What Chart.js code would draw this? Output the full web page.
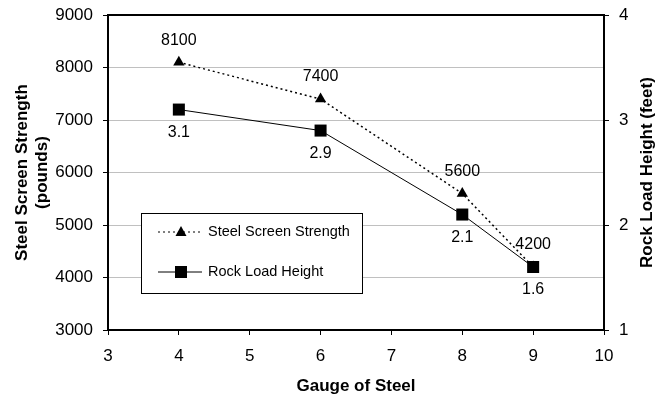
<!DOCTYPE html>
<html>
<head>
<meta charset="utf-8">
<script src="https://cdn.jsdelivr.net/npm/chart.js@4/dist/chart.umd.min.js"></script>
<style>
  html, body { margin: 0; padding: 0; background: #fff; }
  #wrap { width: 670px; height: 401px; position: relative; }
</style>
</head>
<body>
<div id="wrap"><canvas id="gaugeChart"></canvas></div>
<script>
// datos
const gauges = [4, 6, 8, 9];
const screenStrength = [8100, 7400, 5600, 4200];
const rockLoadHeight = [3.1, 2.9, 2.1, 1.6];
const strengthTicks = [3000, 4000, 5000, 6000, 7000, 8000, 9000];
const heightTicks = [1, 2, 3, 4];
const seriesNames = ['Steel Screen Strength', 'Rock Load Height'];

const fontFamily = '"Liberation Sans", Arial, sans-serif';

// etiquetas de valor, borde superior, leyenda y título derecho
const extrasPlugin = {
    id: 'extras',
    afterDatasetsDraw(chart) {
        const ctx = chart.ctx;
        const area = chart.chartArea;
        ctx.save();
        ctx.fillStyle = '#000';
        ctx.font = '16px ' + fontFamily;
        ctx.textAlign = 'center';
        ctx.textBaseline = 'middle';
        chart.getDatasetMeta(0).data.forEach(function (pt, i) {
            ctx.fillText(String(screenStrength[i]), pt.x, pt.y - 22);
        });
        chart.getDatasetMeta(1).data.forEach(function (pt, i) {
            ctx.fillText(rockLoadHeight[i].toFixed(1), pt.x, pt.y + 23);
        });

        // borde superior del área
        ctx.strokeStyle = '#000';
        ctx.lineWidth = 2;
        ctx.beginPath();
        ctx.moveTo(area.left - 1, area.top);
        ctx.lineTo(area.right + 1, area.top);
        ctx.stroke();

        // leyenda
        const lx = 141, ly = 213, lw = 221, lh = 80;
        ctx.fillStyle = '#fff';
        ctx.fillRect(lx, ly, lw, lh);
        ctx.lineWidth = 1;
        ctx.strokeRect(lx + 0.5, ly + 0.5, lw, lh);

        const rows = [ly + 19, ly + 59];
        // fila 1: línea punteada con triángulo
        ctx.beginPath();
        ctx.setLineDash([2, 3]);
        ctx.moveTo(158, rows[0]);
        ctx.lineTo(202, rows[0]);
        ctx.stroke();
        ctx.setLineDash([]);
        ctx.fillStyle = '#000';
        ctx.beginPath();
        ctx.moveTo(181, rows[0] - 6);
        ctx.lineTo(186.5, rows[0] + 4);
        ctx.lineTo(175.5, rows[0] + 4);
        ctx.closePath();
        ctx.fill();
        // fila 2: línea continua con cuadrado
        ctx.beginPath();
        ctx.moveTo(158, rows[1]);
        ctx.lineTo(202, rows[1]);
        ctx.stroke();
        ctx.fillRect(175, rows[1] - 6, 12, 12);

        ctx.font = '14.5px ' + fontFamily;
        ctx.textAlign = 'left';
        ctx.fillText(seriesNames[0], 208, rows[0]);
        ctx.fillText(seriesNames[1], 208, rows[1]);

        // título del eje derecho (de abajo hacia arriba)
        ctx.save();
        ctx.translate(647, (area.top + area.bottom) / 2);
        ctx.rotate(-Math.PI / 2);
        ctx.textAlign = 'center';
        ctx.font = 'bold 17px ' + fontFamily;
        ctx.fillText('Rock Load Height (feet)', 0, 0);
        ctx.restore();
        ctx.restore();
    }
};

const tickFont = { size: 17, family: fontFamily };
// lineHeight reducido para que el área empiece en y≈15
const sideTickFont = { size: 17, family: fontFamily, lineHeight: 0.6 };
const plainTick = v => String(v);

const ctx = document.getElementById('gaugeChart');
new Chart(ctx, {
    type: 'line',
    data: {
        datasets: [{
            label: seriesNames[0],
            data: gauges.map((g, i) => ({ x: g, y: screenStrength[i] })),
            yAxisID: 'y',
            borderColor: '#000',
            backgroundColor: '#000',
            borderWidth: 1.5,
            borderDash: [2, 3],
            pointStyle: 'triangle',
            pointRadius: 6.5,
            pointBorderWidth: 0,
            tension: 0,
            order: 1
        }, {
            label: seriesNames[1],
            data: gauges.map((g, i) => ({ x: g, y: rockLoadHeight[i] })),
            yAxisID: 'y1',
            borderColor: '#000',
            backgroundColor: '#000',
            borderWidth: 1,
            pointStyle: 'rect',
            pointRadius: 8.5,
            pointBorderWidth: 0,
            tension: 0,
            order: 0
        }]
    },
    options: {
        responsive: true,
        maintainAspectRatio: false,
        animation: false,
        layout: { padding: { top: 15, left: 0, right: 0, bottom: 0 } },
        plugins: { legend: { display: false }, tooltip: { enabled: false } },
        scales: {
            x: {
                type: 'linear',
                min: 3, max: 10,
                afterFit: s => { s.height = 71; },
                ticks: { stepSize: 1, color: '#000', padding: 11, font: tickFont, callback: plainTick },
                grid: { drawOnChartArea: false, tickLength: 5, tickColor: '#000' },
                border: { color: '#000', width: 2 },
                title: { display: true, text: 'Gauge of Steel', color: '#000', padding: { top: 0, bottom: 4 }, font: { size: 17, weight: 'bold', family: fontFamily } }
            },
            y: {
                position: 'left',
                min: strengthTicks[0], max: strengthTicks[strengthTicks.length - 1],
                afterFit: s => { s.width = 108; },
                afterBuildTicks: s => { s.ticks = strengthTicks.map(v => ({ value: v })); },
                ticks: { color: '#000', padding: 10, font: sideTickFont, callback: plainTick },
                grid: { color: '#c0c0c0', tickColor: '#000', tickLength: 5 },
                border: { color: '#000', width: 2 },
                title: { display: true, text: ['Steel Screen Strength', '(pounds)'], color: '#000', padding: { top: 12, bottom: 0 }, font: { size: 17, weight: 'bold', family: fontFamily } }
            },
            y1: {
                position: 'right',
                min: heightTicks[0], max: heightTicks[heightTicks.length - 1],
                afterFit: s => { s.width = 66; },
                afterBuildTicks: s => { s.ticks = heightTicks.map(v => ({ value: v })); },
                ticks: { color: '#000', padding: 10, font: sideTickFont, callback: plainTick },
                grid: { drawOnChartArea: false, tickColor: '#000', tickLength: 5 },
                border: { color: '#000', width: 2 }
            }
        }
    },
    plugins: [extrasPlugin]
});
</script>
</body>
</html>
